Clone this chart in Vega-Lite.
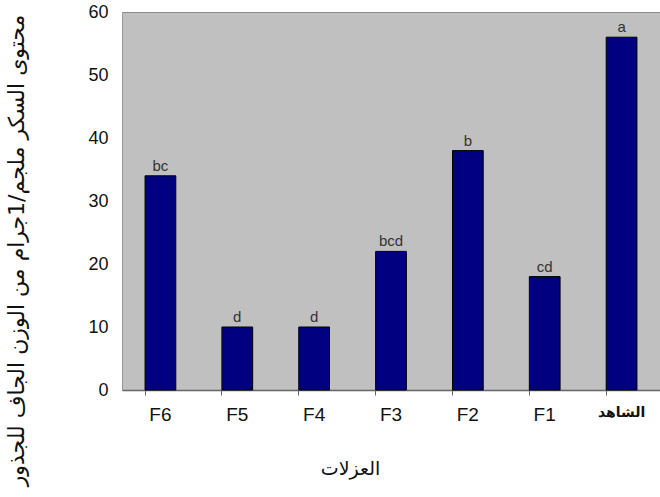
{
  "$schema": "https://vega.github.io/schema/vega-lite/v6.json",
  "width": 538,
  "height": 378,
  "autosize": "none",
  "padding": {"left": 122, "top": 12, "right": 0, "bottom": 107},
  "background": "white",
  "config": {
    "view": {"fill": "#C0C0C0", "stroke": "#8c8c8c", "strokeWidth": 1},
    "font": "Liberation Sans"
  },
  "data": {
    "values": [
      {"isolate": "F6", "sugar": 34, "letter": "bc"},
      {"isolate": "F5", "sugar": 10, "letter": "d"},
      {"isolate": "F4", "sugar": 10, "letter": "d"},
      {"isolate": "F3", "sugar": 22, "letter": "bcd"},
      {"isolate": "F2", "sugar": 38, "letter": "b"},
      {"isolate": "F1", "sugar": 18, "letter": "cd"},
      {"isolate": "الشاهد", "sugar": 56, "letter": "a"}
    ]
  },
  "encoding": {
    "x": {
      "field": "isolate",
      "type": "nominal",
      "sort": null,
      "scale": {"paddingInner": 0.6, "paddingOuter": 0.3},
      "axis": {
        "title": "العزلات",
        "titleFont": "DejaVu Sans",
        "titleFontSize": 19,
        "titleFontWeight": "normal",
        "titleColor": "#111",
        "titleX": 228,
        "titleY": 78,
        "titleBaseline": "middle",
        "labelAngle": 0,
        "labelFontSize": {"expr": "datum.value == 'الشاهد' ? 14 : 19"},
        "labelFont": {"expr": "datum.value == 'الشاهد' ? 'DejaVu Sans' : 'Liberation Sans'"},
        "labelFontWeight": {"expr": "datum.value == 'الشاهد' ? 'bold' : 'normal'"},
        "labelColor": "#111",
        "labelPadding": 10,
        "labelBaseline": "top",
        "bandPosition": 0,
        "ticks": true,
        "tickSize": 5,
        "tickColor": "#666",
        "domainColor": "#666",
        "domainWidth": 1.5,
        "grid": false
      }
    },
    "y": {
      "field": "sugar",
      "type": "quantitative",
      "scale": {"domain": [0, 60], "nice": false},
      "axis": {
        "title": "محتوى السكر ملجم/1جرام من الوزن الجاف للجذور",
        "titleFont": "DejaVu Sans",
        "titleFontSize": 22,
        "titleFontWeight": "normal",
        "titleColor": "#111",
        "titleX": -106,
        "titleY": 238,
        "titleAlign": "center",
        "titleBaseline": "middle",
        "titleAngle": -90,
        "values": [0, 10, 20, 30, 40, 50, 60],
        "labelFontSize": 18,
        "labelColor": "#111",
        "labelPadding": 14,
        "ticks": false,
        "domainColor": "#999",
        "grid": false
      }
    }
  },
  "layer": [
    {
      "mark": {"type": "bar", "fill": "#000080", "stroke": "#000000", "strokeWidth": 1}
    },
    {
      "mark": {"type": "text", "baseline": "bottom", "dy": -2, "fontSize": 15, "color": "#333"},
      "encoding": {"text": {"field": "letter"}}
    }
  ]
}
